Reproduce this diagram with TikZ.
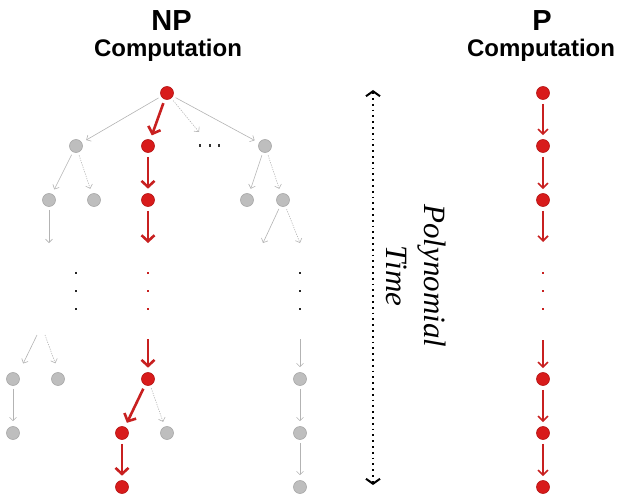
\documentclass[tikz,border=0pt]{standalone}
\usepackage{fontspec}
\newfontfamily\headfont{Liberation Sans}
\newfontfamily\timesfont{Liberation Serif}
\usetikzlibrary{arrows.meta}
\definecolor{nred}{HTML}{D81B1B}
\definecolor{nredd}{HTML}{B51414}
\definecolor{ared}{HTML}{C82020}
\definecolor{ngray}{HTML}{BEBEBE}
\definecolor{ngrayd}{HTML}{A8A8A8}
\definecolor{agray}{HTML}{B3B3B3}
\begin{document}
\begin{tikzpicture}[x=1pt,y=-1pt,
  rnode/.style={circle,fill=nred,draw=nredd,line width=0.6pt,minimum size=13pt,inner sep=0pt},
  gnode/.style={circle,fill=ngray,draw=ngrayd,line width=0.6pt,minimum size=13pt,inner sep=0pt},
  redarr/.style={ared,line width=2.6pt,-{Straight Barb[length=6pt,width=13pt]},shorten <=4pt,shorten >=4.5pt},
  parr/.style={ared,line width=1.6pt,-{Straight Barb[length=5pt,width=10pt]},shorten <=4pt,shorten >=4pt},
  garr/.style={agray,line width=0.6pt,-{Straight Barb[length=3.5pt,width=7pt]},shorten <=3pt,shorten >=5pt},
  gdot/.style={garr,dash pattern=on 1.2pt off 1.2pt},
  free/.style={shorten >=0pt},
  fromfree/.style={shorten <=0pt},
  vdot/.style={inner sep=0pt,minimum size=2.4pt,fill=#1},
  head/.style={font=\headfont\bfseries\fontsize{29}{29}\selectfont,anchor=base,inner sep=0pt},
  sub/.style={font=\headfont\bfseries\fontsize{24}{24}\selectfont,anchor=base,inner sep=0pt}]
\useasboundingbox (0,0) rectangle (619,495);

% titles
\node[head] (tnp) at (171.5,31) {NP};
\node[sub] (tnpc) at (168,57) {Computation};
\node[head] (tp) at (542,31) {P};
\node[sub] (tpc) at (541,57) {Computation};

% NP tree nodes
\node[rnode] (r0) at (167,93) {};
\node[gnode] (g1a) at (76,146) {};
\node[rnode] (r1) at (148,146) {};
\node[gnode] (g1b) at (265,146) {};
\node[gnode] (g2a) at (49,200) {};
\node[gnode] (g2b) at (94,200) {};
\node[rnode] (r2) at (148,200) {};
\node[gnode] (g2c) at (247,200) {};
\node[gnode] (g2d) at (283,200) {};
\node[gnode] (g3a) at (13,379) {};
\node[gnode] (g3b) at (58,379) {};
\node[rnode] (r3) at (148,379) {};
\node[gnode] (g3c) at (300,379) {};
\node[gnode] (g4a) at (13,433) {};
\node[rnode] (r4) at (122,433) {};
\node[gnode] (g4b) at (167,433) {};
\node[gnode] (g4c) at (300,433) {};
\node[rnode] (r5) at (122,487) {};
\node[gnode] (g5) at (300,487) {};

% free coordinates
\coordinate (e0) at (199,132);
\coordinate (e1) at (49,243);
\coordinate (e2) at (148,243);
\coordinate (e3) at (263,243);
\coordinate (e4) at (300,243);
\coordinate (s1) at (37,335);
\coordinate (f1) at (21,368);
\coordinate (s2) at (45,335);
\coordinate (f2) at (57,368);
\coordinate (s3) at (148,339);
\coordinate (s4) at (300,339);

% NP connectors
\draw[garr] (r0) -- (g1a);
\draw[redarr] (r0) -- (r1);
\draw[gdot,free] (r0) -- (e0);
\draw[garr] (r0) -- (g1b);
\draw[garr] (g1a) -- (g2a);
\draw[gdot] (g1a) -- (g2b);
\draw[redarr] (r1) -- (r2);
\draw[garr] (g1b) -- (g2c);
\draw[gdot] (g1b) -- (g2d);
\draw[garr,free] (g2a) -- (e1);
\draw[redarr,free] (r2) -- (e2);
\draw[garr,free] (g2d) -- (e3);
\draw[gdot,free] (g2d) -- (e4);
\draw[garr,fromfree] (s1) -- (f1);
\draw[gdot,fromfree] (s2) -- (f2);
\draw[redarr,fromfree] (s3) -- (r3);
\draw[garr,fromfree] (s4) -- (g3c);
\draw[garr] (g3a) -- (g4a);
\draw[redarr] (r3) -- (r4);
\draw[gdot] (r3) -- (g4b);
\draw[garr] (g3c) -- (g4c);
\draw[redarr] (r4) -- (r5);
\draw[garr] (g4c) -- (g5);

% ellipses
\foreach \x in {199,208.5,218} \fill[black!80] (\x,146.5) rectangle ++(2.4,-2.4);
\foreach \y in {272,290,308} {
  \fill[black!85] (75,\y) rectangle ++(2.2,2.4);
  \fill[ared] (147,\y) rectangle ++(2.2,2.4);
  \fill[black!85] (299,\y) rectangle ++(2.2,2.4);
  \fill[ared] (542,\y) rectangle ++(2.2,2.4);
}

% Polynomial time
\coordinate (ta) at (373,90);
\coordinate (tb) at (373,485);
\draw[black,line width=1.8pt,dash pattern=on 1.8pt off 4pt,
  {Straight Barb[length=5pt,width=14pt,line width=2pt]}-{Straight Barb[length=5pt,width=14pt,line width=2pt]}] (ta) -- (tb);
\node[rotate=-90,align=center,inner sep=0pt,font=\timesfont\itshape\fontsize{31}{38}\selectfont] (pt) at (416,276) {Polynomial\\Time};

% P chain
\node[rnode] (p1) at (543,93) {};
\node[rnode] (p2) at (543,146) {};
\node[rnode] (p3) at (543,200) {};
\node[rnode] (p4) at (543,379) {};
\node[rnode] (p5) at (543,433) {};
\node[rnode] (p6) at (543,487) {};
\coordinate (pe) at (543,242);
\coordinate (ps) at (543,340);
\draw[parr] (p1) -- (p2);
\draw[parr] (p2) -- (p3);
\draw[parr,free] (p3) -- (pe);
\draw[parr,fromfree] (ps) -- (p4);
\draw[parr] (p4) -- (p5);
\draw[parr] (p5) -- (p6);
\end{tikzpicture}
\end{document}
